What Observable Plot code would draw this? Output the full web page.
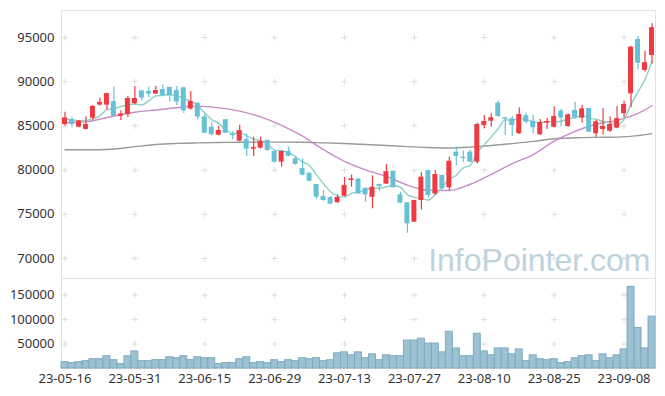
<!DOCTYPE html>
<html><head><meta charset="utf-8">
<script src="https://cdn.jsdelivr.net/npm/d3@7"></script>
<script src="https://cdn.jsdelivr.net/npm/@observablehq/plot@0.6"></script>
<style>
html,body{margin:0;padding:0;background:#fff;}
#chart{width:665px;height:396px;position:relative;overflow:hidden;}
#chart svg{display:block;}
#vol{margin-top:-1px;}
</style></head><body><div id="chart"><div id="price"></div><div id="vol"></div></div>
<script>
const dates = ["23-05-16","23-05-17","23-05-18","23-05-19","23-05-22","23-05-23","23-05-24","23-05-25","23-05-26","23-05-30","23-05-31",
"23-06-01","23-06-02","23-06-05","23-06-07","23-06-08","23-06-09","23-06-12","23-06-13","23-06-14","23-06-15","23-06-16","23-06-19","23-06-20","23-06-21","23-06-22","23-06-23","23-06-26","23-06-27","23-06-28","23-06-29","23-06-30",
"23-07-03","23-07-04","23-07-05","23-07-06","23-07-07","23-07-10","23-07-11","23-07-12","23-07-13","23-07-14","23-07-17","23-07-18","23-07-19","23-07-20","23-07-21","23-07-24","23-07-25","23-07-26","23-07-27","23-07-28","23-07-31",
"23-08-01","23-08-02","23-08-03","23-08-04","23-08-07","23-08-08","23-08-09","23-08-10","23-08-11","23-08-14","23-08-16","23-08-17","23-08-18","23-08-21","23-08-22","23-08-23","23-08-24","23-08-25","23-08-28","23-08-29","23-08-30","23-08-31",
"23-09-01","23-09-04","23-09-05","23-09-06","23-09-07","23-09-08","23-09-11","23-09-12","23-09-13","23-09-14"];

const opens = [85150,85700,84850,84600,85870,87350,87350,87750,86100,86300,87500,88950,88900,88600,89100,89350,89000,89300,86900,87570,
86000,84850,83950,85700,84050,83270,83430,82370,82480,83350,82100,80900,82100,81280,80180,79650,78370,77000,76870,76330,
77050,78820,79000,77950,76930,78370,78420,79880,77200,76300,74110,76560,79950,77300,79400,78000,82030,81460,82030,80900,
85050,85530,87570,85920,85800,84110,86140,85530,84000,85310,84850,86660,84930,86740,85880,86970,84110,84590,84400,84750,
86380,88630,94770,91270,92960];
const highs = [86550,85980,85600,86000,87300,88150,88700,89400,86700,88330,89450,89000,89400,89450,89650,89400,89450,89400,88900,87600,
86300,85400,84970,85700,84330,85080,84100,83720,83720,83430,82220,82150,82600,81540,81280,79650,78370,77700,77010,77200,
79160,79420,79000,77950,79350,78400,80630,79880,77500,76300,76600,79700,80000,79950,79400,81450,82600,82200,82220,85300,
86180,86370,87800,85950,86060,87050,86430,86180,85720,85870,87150,86890,86370,87680,87300,86970,85610,86930,86000,87200,
87800,94000,95110,93450,96550];
const lows = [85000,84790,84800,84550,85650,87250,86800,86050,85600,85950,87400,87850,88150,88550,88300,87700,87300,86400,86800,85700,
84100,83900,83880,84100,83430,83200,81550,81550,82400,82140,80800,80330,81500,80560,79350,78670,76700,76480,76100,76200,
76970,78070,77300,76370,75620,77620,78370,78000,76190,72860,74100,75500,76870,77130,77800,77700,80500,80900,80800,80700,
84670,84860,85980,83900,83800,84030,85240,84110,83910,84580,84780,84900,84860,85820,85300,84290,83720,84000,84290,84670,
85900,87050,91340,91080,92000];
const closes = [85900,85150,85550,85150,87200,87650,88650,86100,86350,88100,88100,88150,88600,89000,88450,88450,87700,86700,87750,86000,
84170,84000,84480,84170,83900,84480,82370,82560,83240,82220,80900,82100,81570,80640,79420,78740,76930,76560,76150,76900,
78260,79010,77300,77200,78070,78150,79820,78000,76260,73920,76560,79200,77130,79500,77900,81000,81540,81310,80900,85160,
85500,85920,86060,85760,85050,86290,85420,84790,85380,85500,86060,85880,86250,85880,86930,84290,85460,84930,85160,85810,
87420,93900,92090,92140,96100];
const volumes = [13000,11000,13000,15000,19000,19000,25000,17000,9000,25000,
35000,15000,15000,17000,17000,23000,21000,25000,17000,23000,
21000,21000,9000,11000,11000,19000,23000,11000,13000,11000,
17000,13000,17000,15000,21000,19000,21000,15000,17000,31000,
33000,27000,33000,21000,29000,17000,27000,25000,25000,57000,
57000,61000,51000,51000,33000,75000,41000,25000,25000,71000,
35000,27000,41000,41000,29000,39000,15000,27000,19000,17000,
19000,11000,13000,21000,25000,27000,15000,29000,21000,27000,
39000,167000,83000,41000,106000];
// 5-day moving average, one value per date
const ma5 = [85800,85680,85600,85620,85790,86140,86840,86950,87190,87370,87460,87360,87860,88390,88460,88530,88440,88060,87810,87320,
86460,85720,85280,84560,84140,84210,83880,83500,83310,82970,82260,82200,82010,81490,80930,80490,79460,78460,77560,77060,
76960,77380,77520,77730,77970,77950,78110,78250,78060,77230,76910,76790,76610,77260,78060,78950,79410,80250,80530,81980,
82880,83760,84710,85680,85660,85820,85720,85460,85390,85480,85430,85520,85810,85910,86190,85830,85750,85480,85340,85120,
85740,87430,88860,90260,92320];
// longer moving averages, read at sampled dates
const maDates = ["23-05-16","23-05-19","23-05-24","23-05-31","23-06-05","23-06-09","23-06-14","23-06-19","23-06-22","23-06-27","23-06-30",
"23-07-05","23-07-10","23-07-13","23-07-18","23-07-21","23-07-26","23-07-31","23-08-03","23-08-08","23-08-11","23-08-17","23-08-22",
"23-08-25","23-08-30","23-09-04","23-09-07","23-09-12","23-09-14"];
const ma20 = [85350,85450,85950,86550,86800,87050,87240,87040,86670,86020,85060,83840,82310,80980,80020,79290,78300,77710,77690,78400,
79520,80730,81760,83270,84380,85190,85620,86410,87280];
const ma60 = [82300,82300,82330,82650,82900,83020,83080,83120,83150,83160,83160,83150,83080,83000,82900,82780,82650,82550,82500,82600,
82780,83000,83250,83550,83650,83700,83730,83900,84120];

const priceTicks = [70000,75000,80000,85000,90000,95000];
const volumeTicks = [50000,100000,150000];
const dateTicks = ["23-05-16","23-05-31","23-06-15","23-06-29","23-07-13","23-07-27","23-08-10","23-08-25","23-09-08"];

const UP = "#ee3a40", DOWN = "#66c1d7";
const candles = dates.map((d,i)=>({date:d, open:opens[i], high:highs[i], low:lows[i], close:closes[i], volume:volumes[i]}));
const ma5Data = dates.map((d,i)=>({date:d, v:ma5[i]}));
const ma20Data = maDates.map((d,i)=>({date:d, v:ma20[i]}));
const ma60Data = maDates.map((d,i)=>({date:d, v:ma60[i]}));
const color = d => d.close >= d.open ? UP : DOWN;

const cross = {draw(ctx, size){ const r = Math.sqrt(size/Math.PI); ctx.moveTo(-r,0); ctx.lineTo(r,0); ctx.moveTo(0,-r); ctx.lineTo(0,r);} };
const priceGrid = dateTicks.flatMap(d => priceTicks.map(p => ({date:d, v:p})));
const volGrid = dateTicks.flatMap(d => volumeTicks.map(p => ({date:d, v:p})));
const font = "'Noto Sans', 'DejaVu Sans', sans-serif";

const price = Plot.plot({
  width:665, height:279, marginLeft:61, marginRight:10, marginTop:10, marginBottom:1,
  style:{fontFamily:font, fontSize:"13px", color:"#333333", background:"transparent"},
  x:{type:"band", domain:dates, padding:0, axis:null},
  y:{domain:[67740,98050], ticks:priceTicks, tickSize:0, tickPadding:7, tickFormat:d=>String(d), label:null},
  marks:[
    Plot.frame({stroke:"#e2e2e2"}),
    Plot.dot(priceGrid,{x:"date", y:"v", symbol:cross, r:3, stroke:"#dedede", fill:"none", strokeWidth:1}),
    Plot.text(["InfoPointer.com"], {frameAnchor:"bottom-right", dx:-5, dy:-8, fontSize:32, fill:"#c0d3dc", fontFamily:"'Liberation Sans', Arial, sans-serif", textAnchor:"end", lineAnchor:"bottom"}),
    Plot.line(ma60Data,{x:"date", y:"v", stroke:"#9a9a9a", strokeWidth:1.4, curve:"monotone-x"}),
    Plot.line(ma20Data,{x:"date", y:"v", stroke:"#c98cc6", strokeWidth:1.4, curve:"monotone-x"}),
    Plot.line(ma5Data,{x:"date", y:"v", stroke:"#8fd0c6", strokeWidth:1.4, curve:"monotone-x"}),
    Plot.ruleX(candles,{x:"date", y1:"low", y2:"high", stroke:color, strokeWidth:1.2}),
    Plot.barY(candles,{x:"date", y1:"open", y2:"close", fill:color, insetLeft:1, insetRight:1})
  ]
});
document.getElementById("price").appendChild(price);

const vol = Plot.plot({
  width:665, height:118, marginLeft:61, marginRight:10, marginTop:0, marginBottom:28,
  style:{fontFamily:font, fontSize:"13px", color:"#333333", background:"transparent"},
  x:{type:"band", domain:dates, padding:0, ticks:dateTicks, tickSize:0, tickPadding:5, label:null, fontSize:14},
  y:{domain:[0,184000], ticks:volumeTicks, tickSize:0, tickPadding:7, tickFormat:d=>String(d), label:null},
  marks:[
    Plot.frame({stroke:"#e2e2e2"}),
    Plot.dot(volGrid,{x:"date", y:"v", symbol:cross, r:3, stroke:"#dedede", fill:"none", strokeWidth:1}),
    Plot.barY(candles,{x:"date", y:"volume", fill:"#9bc1d2", stroke:"#7eabbf", strokeWidth:1})
  ]
});
document.getElementById("vol").appendChild(vol);
</script></body></html>
